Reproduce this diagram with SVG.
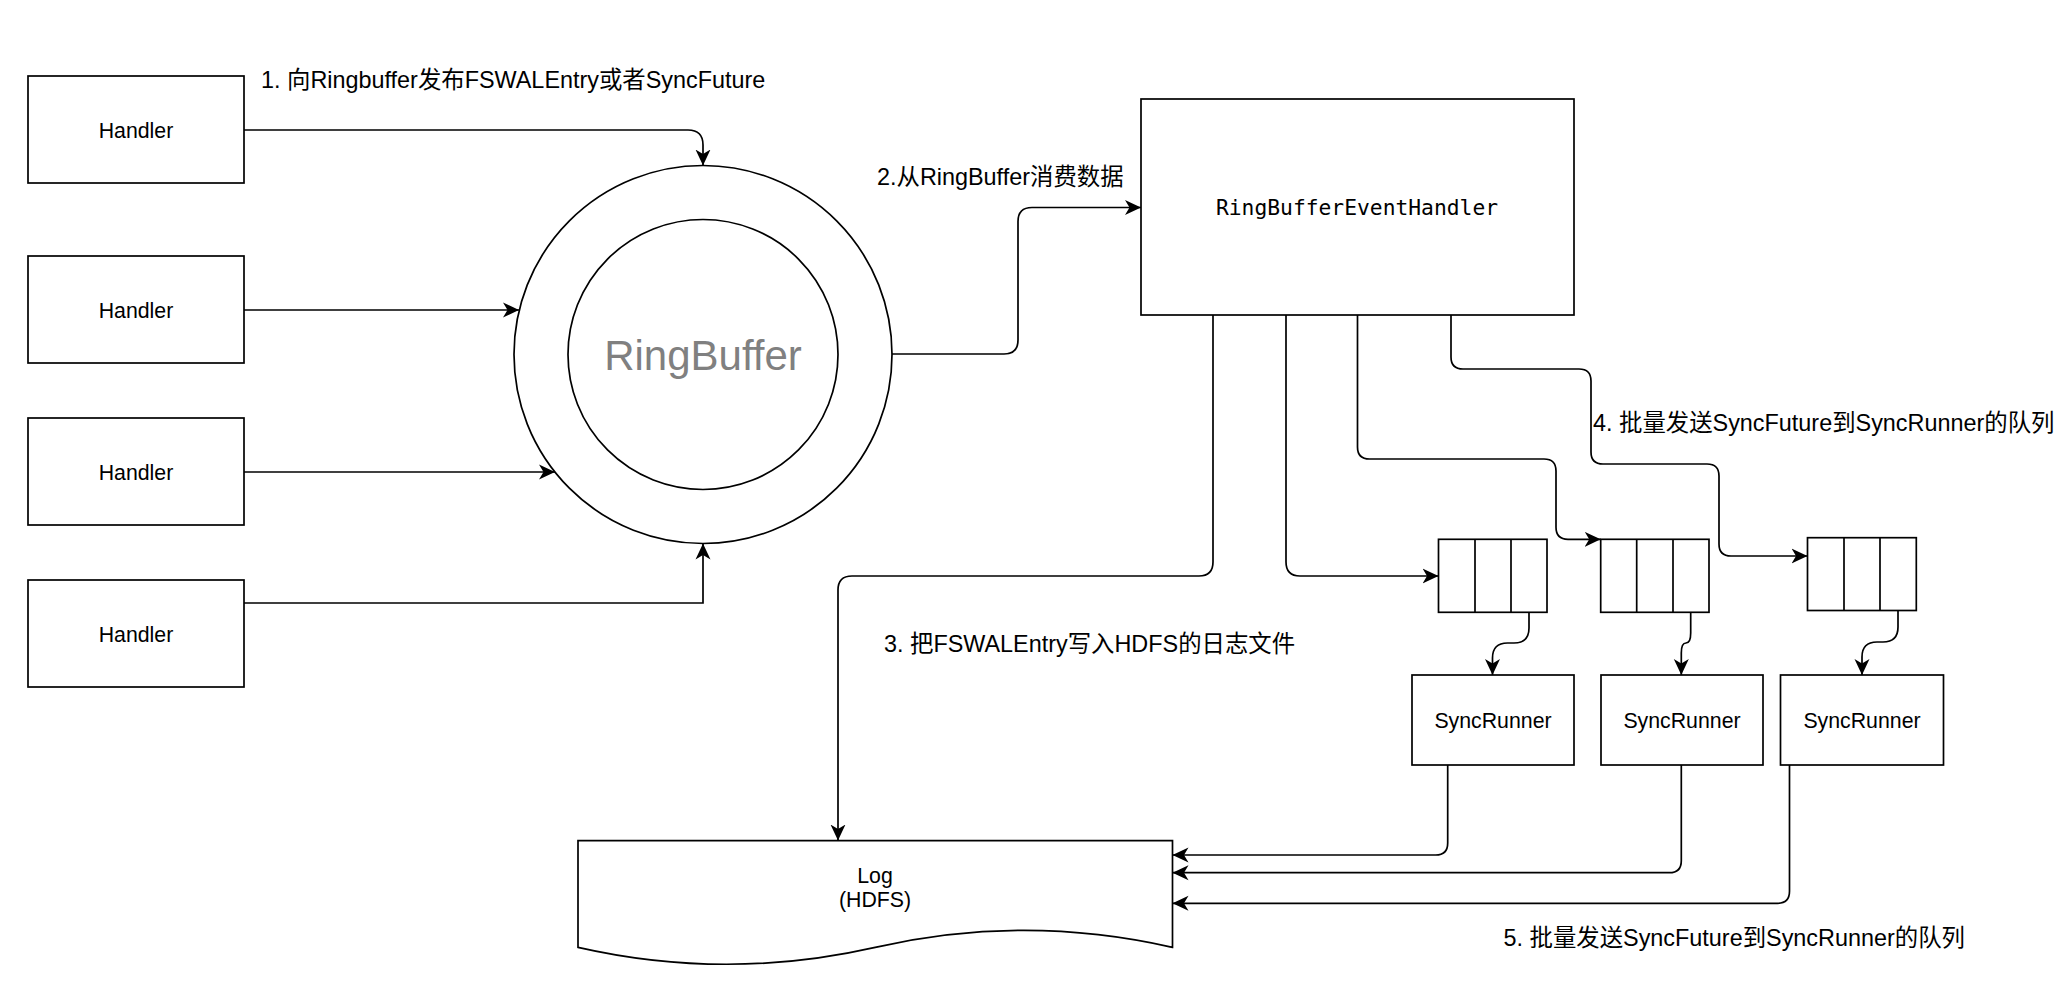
<svg xmlns="http://www.w3.org/2000/svg" width="2066" height="990" viewBox="0 0 2066 990">
<style>
.box{fill:#fff;stroke:#000;stroke-width:1.7}
.ln{fill:none;stroke:#000;stroke-width:1.7}
.t{font-family:"Liberation Sans","Noto Sans CJK SC",sans-serif;font-size:21.3px;fill:#000;text-anchor:middle}
.lbl{font-family:"Liberation Sans","Noto Sans CJK SC",sans-serif;font-size:23.4px;fill:#000}
.mono{font-family:"DejaVu Sans Mono","Liberation Mono",monospace;font-size:21.3px;fill:#000;text-anchor:middle}
.ring{font-family:"Liberation Sans",sans-serif;font-size:42px;fill:#808080;text-anchor:middle}
</style>
<defs>
<marker id="arr" viewBox="0 0 16 16" refX="16" refY="8" markerWidth="16" markerHeight="16" markerUnits="userSpaceOnUse" orient="auto">
<path d="M0,0.5 L16,8 L0,15.5 L4.5,8 Z" fill="#000"/>
</marker>
</defs>
<rect width="2066" height="990" fill="#fff"/>

<g id="handler1"><rect class="box" x="28" y="76" width="216" height="107"/><text class="t" x="136" y="137.5">Handler</text></g>
<g id="handler2"><rect class="box" x="28" y="256" width="216" height="107"/><text class="t" x="136" y="317.5">Handler</text></g>
<g id="handler3"><rect class="box" x="28" y="418" width="216" height="107"/><text class="t" x="136" y="479.5">Handler</text></g>
<g id="handler4"><rect class="box" x="28" y="580" width="216" height="107"/><text class="t" x="136" y="641.5">Handler</text></g>

<g id="ringbuffer">
<circle class="box" cx="703" cy="354.5" r="189"/>
<circle class="box" cx="703" cy="354.5" r="135"/>
<text class="ring" x="703" y="369.5">RingBuffer</text>
</g>

<g id="rbeh"><rect class="box" x="1141" y="99" width="433" height="216"/><text class="mono" x="1357" y="215">RingBufferEventHandler</text></g>

<g id="queue1"><rect class="box" x="1438.5" y="539.3" width="108.5" height="73"/><path class="ln" d="M1475,539.3 V612.3 M1511,539.3 V612.3"/></g>
<g id="queue2"><rect class="box" x="1600.7" y="539.3" width="108.3" height="73"/><path class="ln" d="M1636.7,539.3 V612.3 M1673,539.3 V612.3"/></g>
<g id="queue3"><rect class="box" x="1807.5" y="537.7" width="108.8" height="72.8"/><path class="ln" d="M1844,537.7 V610.5 M1880,537.7 V610.5"/></g>

<g id="syncrunner1"><rect class="box" x="1412" y="675" width="162" height="90"/><text class="t" x="1493" y="728">SyncRunner</text></g>
<g id="syncrunner2"><rect class="box" x="1601" y="675" width="162" height="90"/><text class="t" x="1682" y="728">SyncRunner</text></g>
<g id="syncrunner3"><rect class="box" x="1780.5" y="675" width="163" height="90"/><text class="t" x="1862" y="728">SyncRunner</text></g>

<g id="log">
<path class="box" d="M578,840.7 L1172.5,840.7 L1172.5,947.3 Q1023.9,913.4 875.25,947.3 Q726.6,981.2 578,947.3 Z"/>
<text class="t" x="875" y="882.5">Log</text>
<text class="t" x="875" y="906.5">(HDFS)</text>
</g>

<g id="connectors">
<path class="ln" marker-end="url(#arr)" d="M244,130 L688,130 Q703,130 703,145 L703,165.5"/>
<path class="ln" marker-end="url(#arr)" d="M244,310 L519,310"/>
<path class="ln" marker-end="url(#arr)" d="M244,472 L555,472"/>
<path class="ln" marker-end="url(#arr)" d="M244,603 L703,603 L703,543.5"/>
<path class="ln" marker-end="url(#arr)" d="M892,354 L1004,354 Q1018,354 1018,340 L1018,221.5 Q1018,207.5 1032,207.5 L1141,207.5"/>
<path class="ln" marker-end="url(#arr)" d="M1213,315 L1213,562 Q1213,576 1199,576 L852,576 Q838,576 838,590 L838,840.5"/>
<path class="ln" marker-end="url(#arr)" d="M1286,315 L1286,562 Q1286,576 1300,576 L1438.5,576"/>
<path class="ln" marker-end="url(#arr)" d="M1357.5,315 L1357.5,447 Q1357.5,459 1369.5,459 L1544,459 Q1556,459 1556,471 L1556,527.3 Q1556,539.3 1568,539.3 L1600.7,539.3"/>
<path class="ln" marker-end="url(#arr)" d="M1451,315 L1451,357 Q1451,369 1463,369 L1579,369 Q1591,369 1591,381 L1591,452 Q1591,464 1603,464 L1707,464 Q1719,464 1719,476 L1719,544 Q1719,556 1731,556 L1807.5,556"/>
<path class="ln" marker-end="url(#arr)" d="M1529,612.3 L1529,628 Q1529,643 1514,643 L1507.5,643 Q1492.5,643 1492.5,658 L1492.5,675"/>
<path class="ln" marker-end="url(#arr)" d="M1690.7,612.3 L1690.7,633 Q1690.7,643 1686,643 Q1681.3,643 1681.3,653 L1681.3,675"/>
<path class="ln" marker-end="url(#arr)" d="M1898,610.5 L1898,627 Q1898,642 1883,642 L1877,642 Q1862,642 1862,657 L1862,675"/>
<path class="ln" marker-end="url(#arr)" d="M1447.7,765 L1447.7,843 Q1447.7,855 1435.7,855 L1172.5,855"/>
<path class="ln" marker-end="url(#arr)" d="M1681.3,765 L1681.3,860.7 Q1681.3,872.7 1669.3,872.7 L1172.5,872.7"/>
<path class="ln" marker-end="url(#arr)" d="M1789.5,765 L1789.5,891.3 Q1789.5,903.3 1777.5,903.3 L1172.5,903.3"/>
</g>

<g id="labels">
<text class="lbl" x="261" y="87.5">1. 向Ringbuffer发布FSWALEntry或者SyncFuture</text>
<text class="lbl" x="877" y="185">2.从RingBuffer消费数据</text>
<text class="lbl" x="884" y="652">3. 把FSWALEntry写入HDFS的日志文件</text>
<text class="lbl" x="1593" y="431">4. 批量发送SyncFuture到SyncRunner的队列</text>
<text class="lbl" x="1503.5" y="946">5. 批量发送SyncFuture到SyncRunner的队列</text>
</g>
</svg>
